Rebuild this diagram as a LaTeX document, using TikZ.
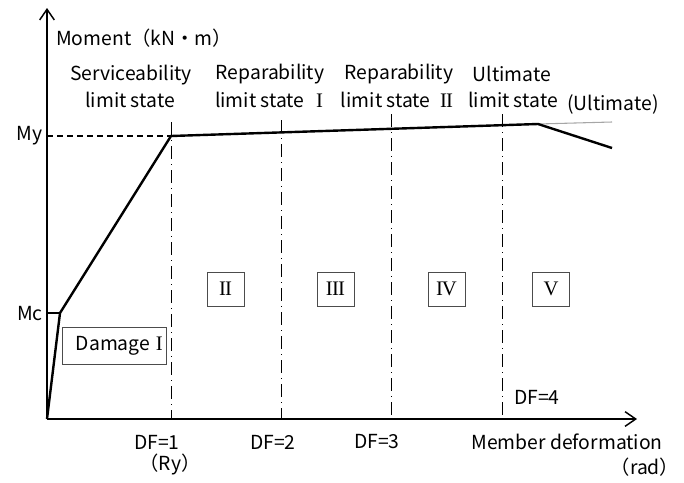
\documentclass[tikz,border=0pt]{standalone}
\usepackage{fontspec}
\setmainfont{Noto Sans CJK JP}
\newfontfamily\romanfont{Liberation Serif}
\usetikzlibrary{arrows.meta}
\newcommand{\rnum}[1]{{\romanfont\fontsize{15.5}{16}\selectfont #1}}
\tikzset{
  lbl/.style={inner sep=0pt, font=\fontsize{14.5}{16}\selectfont},
  axis/.style={line width=1.1pt, -{Straight Barb[length=8pt,width=11pt]}},
  curve/.style={line width=1.8pt, line join=miter},
  dfline/.style={line width=0.7pt, dash pattern=on 10pt off 3.5pt on 1pt off 3.5pt},
  zonebox/.style={draw=black!70, line width=0.7pt, inner sep=0pt, minimum width=27.75pt, minimum height=25.5pt, font=\fontsize{14.5}{16}\selectfont}
}
\begin{document}
\begin{tikzpicture}[x=0.75pt,y=-0.75pt]
\useasboundingbox (0,0) rectangle (684,482);
% key points
\coordinate (O) at (47,419);
\coordinate (Ytop) at (47,8);
\coordinate (Xend) at (637,419);
\coordinate (C) at (60,313);
\coordinate (Y) at (171,136);
\coordinate (U) at (538,124);
\coordinate (E) at (612,148);
\coordinate (G) at (612,122);
\coordinate (Mytick) at (47,136);
\coordinate (Mctick) at (47,313);
% limit-state lines
\foreach \n/\x/\t in {1/171/122,2/281/120,3/391/114,4/502/114}{
  \coordinate (T\n) at (\x,\t);
  \coordinate (B\n) at (\x,419);
}
\foreach \n in {1,2,3,4}{ \draw[dfline] (T\n) -- (B\n); }
% yield level
\draw[line width=0.8pt, dash pattern=on 4.5pt off 3pt] (Mytick) -- (Y);
\draw[line width=0.8pt] (Mctick) -- (C);
% axes
\draw[axis] (O) -- (Ytop);
\draw[axis] (O) -- (Xend);
% moment–deformation curve
\draw[black!35, line width=0.8pt] (U) -- (G);
\draw[curve] (O) -- (C) -- (Y) -- (U) -- (E);
% axis labels
\node[lbl, anchor=west] (ylab) at (56,38) {Moment（kN・m）};
\node[lbl, anchor=east] (my) at (43,136) {My};
\node[lbl, anchor=east] (mc) at (43,314) {Mc};
\node[lbl] (xlab) at (567,442) {Member deformation};
\node[lbl] (rad) at (645,467) {（rad）};
% limit states
\node[lbl] (s1) at (131,75) {Serviceability};
\node[lbl] (s2) at (130,100) {limit state};
\node[lbl] (r1a) at (270,74) {Reparability};
\node[lbl] (r1b) at (269,100) {limit state\hspace{0.6em}\rnum{I}};
\node[lbl] (r2a) at (399,74) {Reparability};
\node[lbl] (r2b) at (397,100) {limit state\hspace{0.5em}\rnum{I\kern-0.6ptI}};
\node[lbl] (u1) at (512,74) {Ultimate};
\node[lbl] (u2) at (513,100) {limit state};
\node[lbl] (u3) at (613,104) {(Ultimate)};
% deformation factors
\node[lbl] (df1) at (157,442) {DF=1};
\node[lbl] (ry) at (170,464) {（Ry）};
\node[lbl] (df2) at (273,442) {DF=2};
\node[lbl] (df3) at (377,442) {DF=3};
\node[lbl] (df4) at (537,397) {DF=4};
% damage zones
\node[zonebox, minimum width=78pt, minimum height=27.75pt] (z1) at (114,345.5) {\hspace{8pt}Damage\hspace{0.3em}\rnum{I}};
\node[zonebox] (z2) at (225.5,289) {\rnum{I\kern-0.6ptI}};
\node[zonebox] (z3) at (335.5,289) {\rnum{I\kern-0.6ptI\kern-0.6ptI}};
\node[zonebox] (z4) at (446.5,289) {\rnum{I\kern-0.8ptV}};
\node[zonebox] (z5) at (551,289) {\rnum{V}};
\end{tikzpicture}
\end{document}
